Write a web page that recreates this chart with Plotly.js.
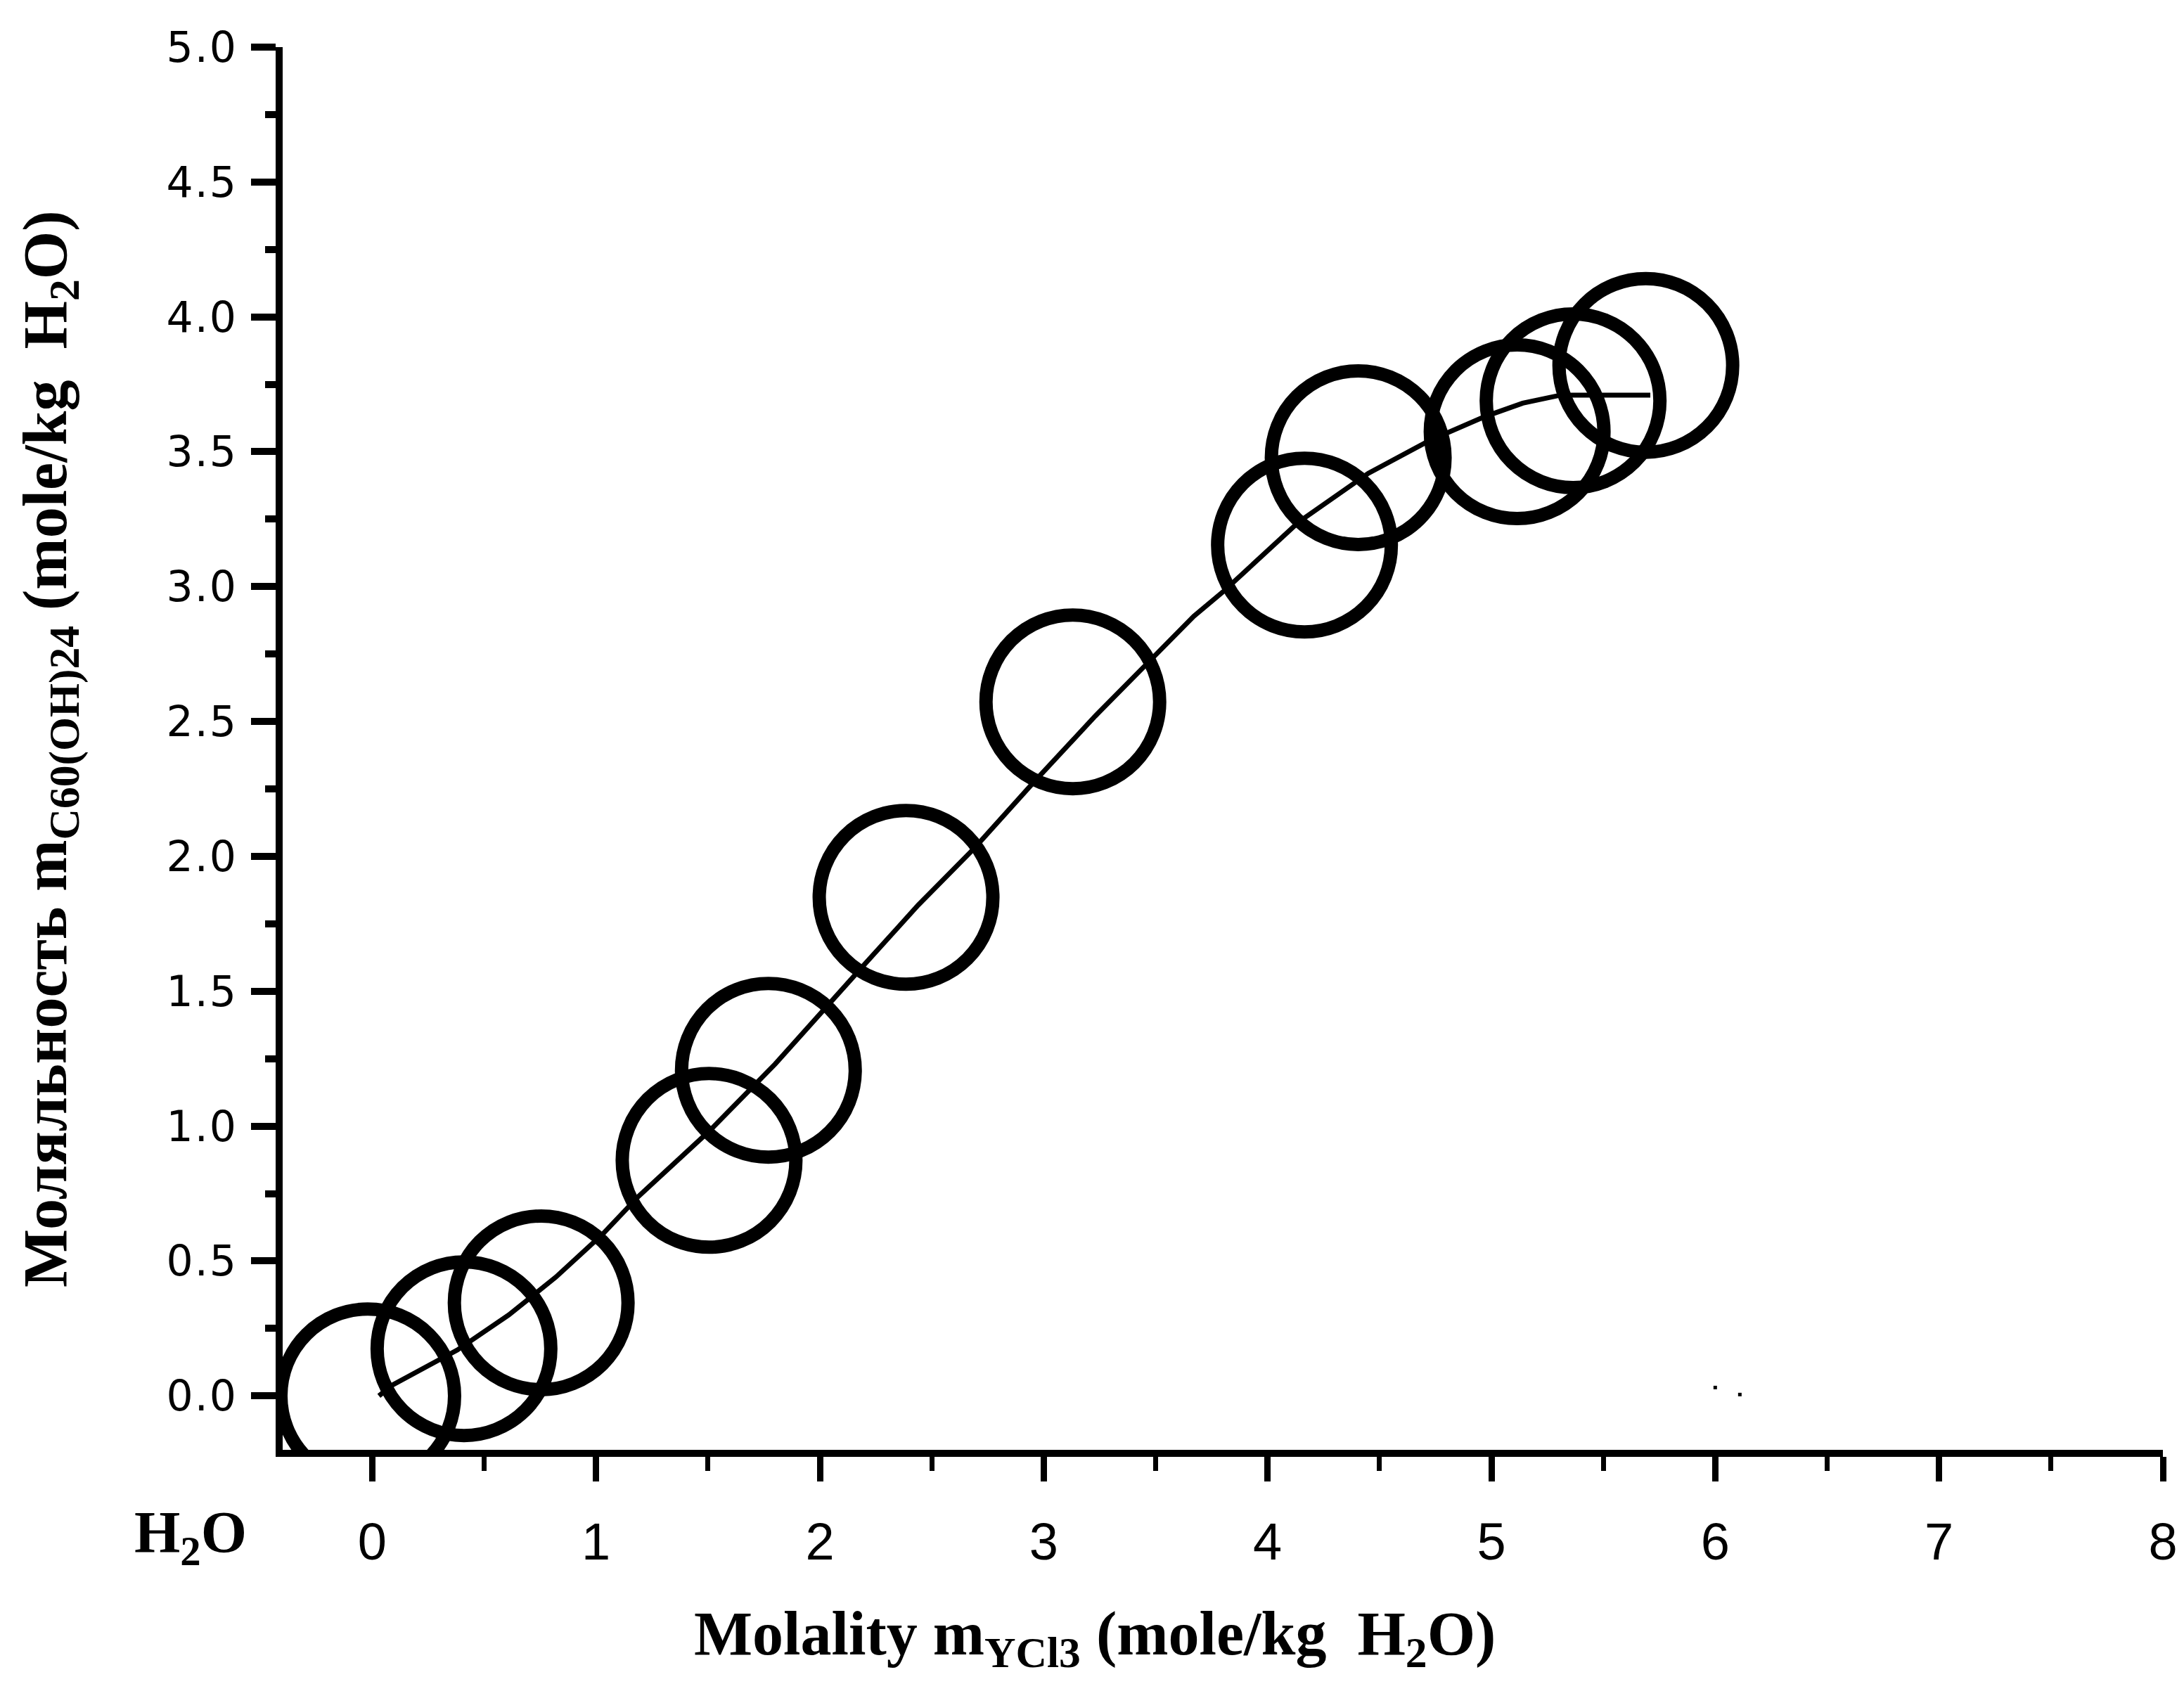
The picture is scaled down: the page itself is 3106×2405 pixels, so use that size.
<!DOCTYPE html>
<html>
<head>
<meta charset="utf-8">
<script src="https://cdn.plot.ly/plotly-3.0.1.min.js"></script>
<style>
  body { margin: 0; background: #ffffff; }
  /* the y tick labels of the original are wide and spaced out */
  g.ytick text { letter-spacing: 2px; }
</style>
</head>
<body>
<div id="chart"></div>
<script>
// measured points (circles)
const pointX = [-0.02, 0.41, 0.755, 1.505, 1.77, 2.385, 3.13, 4.165, 4.405, 5.115, 5.365, 5.69];
const pointY = [0.00, 0.175, 0.345, 0.873, 1.207, 1.848, 2.573, 3.154, 3.478, 3.574, 3.689, 3.82];

// fitted curve
const curveX = [0.03, 0.09, 0.38, 0.61, 0.82, 1.03, 1.19, 1.51, 1.80, 2.05, 2.20, 2.44, 2.69, 2.95,
                3.23, 3.48, 3.67, 3.80, 4.14, 4.45, 4.72, 4.97, 5.14, 5.31, 5.71];
const curveY = [0.00, 0.04, 0.17, 0.30, 0.44, 0.60, 0.74, 0.985, 1.23, 1.465, 1.60, 1.82, 2.03, 2.27,
                2.52, 2.73, 2.89, 2.98, 3.24, 3.42, 3.54, 3.63, 3.68, 3.71, 3.71];

// two stray specks in the scan
const speckX = [6.00, 6.11];
const speckY = [0.031, 0.005];

const xTicks = [0, 1, 2, 3, 4, 5, 6, 7, 8];
const yTicks = [0.0, 0.5, 1.0, 1.5, 2.0, 2.5, 3.0, 3.5, 4.0, 4.5, 5.0];

const xTitle = '<b>Molality m<sub>YCl3</sub> (mole/kg&nbsp; H<sub>2</sub>O)</b>';
const yTitle = '<b>Моляльность m<sub>C60(OH)24</sub> (mole/kg&nbsp; H<sub>2</sub>O)</b>';
const originLabel = '<b>H<sub>2</sub>O</b>';

const serif = 'Liberation Serif, Times New Roman, serif';

var traces = [
  {
    x: pointX,
    y: pointY,
    mode: 'markers',
    type: 'scatter',
    marker: {
      symbol: 'circle-open',
      size: 247,
      color: 'black',
      line: { color: 'black', width: 19 }
    },
    hoverinfo: 'skip'
  },
  {
    x: curveX,
    y: curveY,
    mode: 'lines',
    type: 'scatter',
    line: { color: 'black', width: 7 },
    hoverinfo: 'skip'
  },
  {
    x: speckX,
    y: speckY,
    mode: 'markers',
    type: 'scatter',
    marker: { symbol: 'square', size: 5, color: 'black' },
    hoverinfo: 'skip'
  }
];

var layout = {
  width: 3106,
  height: 2405,
  showlegend: false,
  plot_bgcolor: '#ffffff',
  paper_bgcolor: '#ffffff',
  margin: { l: 402, r: 30, t: 67, b: 343 },
  xaxis: {
    range: [-0.4, 8],
    tickvals: xTicks,
    ticktext: xTicks.map(v => String(v)),
    ticks: 'outside',
    ticklen: 35,
    tickwidth: 9,
    tickcolor: 'black',
    ticklabelstandoff: 22,
    minor: { dtick: 0.5, tick0: 0, ticks: 'outside', ticklen: 20, tickwidth: 7, tickcolor: 'black' },
    showline: true,
    linewidth: 10,
    linecolor: 'black',
    showgrid: false,
    zeroline: false,
    tickfont: { family: 'Liberation Sans Narrow, Liberation Sans, Arial, sans-serif', size: 74, color: 'black' }
  },
  yaxis: {
    range: [-0.2, 5.0],
    tickvals: yTicks,
    ticktext: yTicks.map(v => v.toFixed(1)),
    ticks: 'outside',
    ticklen: 35,
    tickwidth: 10,
    tickcolor: 'black',
    ticklabelstandoff: 7,
    minor: { dtick: 0.25, tick0: 0, ticks: 'outside', ticklen: 15, tickwidth: 10, tickcolor: 'black' },
    showline: true,
    linewidth: 10,
    linecolor: 'black',
    showgrid: false,
    zeroline: false,
    tickfont: { family: 'DejaVu Sans, sans-serif', size: 60, color: 'black' }
  },
  annotations: [
    {
      text: xTitle,
      xref: 'paper', yref: 'paper',
      x: 0.432, y: -0.134,
      xanchor: 'center', yanchor: 'middle',
      showarrow: false,
      font: { family: serif, size: 88, color: 'black' }
    },
    {
      text: yTitle,
      xref: 'paper', yref: 'paper',
      x: -0.124, y: 0.5,
      xanchor: 'center', yanchor: 'middle',
      textangle: -90,
      showarrow: false,
      font: { family: serif, size: 88, color: 'black' }
    },
    {
      text: originLabel,
      xref: 'paper', yref: 'paper',
      x: -0.049, y: -0.062,
      xanchor: 'center', yanchor: 'middle',
      showarrow: false,
      font: { family: serif, size: 84, color: 'black' }
    }
  ]
};

Plotly.newPlot('chart', traces, layout, { displayModeBar: false, staticPlot: true });
</script>
</body>
</html>
